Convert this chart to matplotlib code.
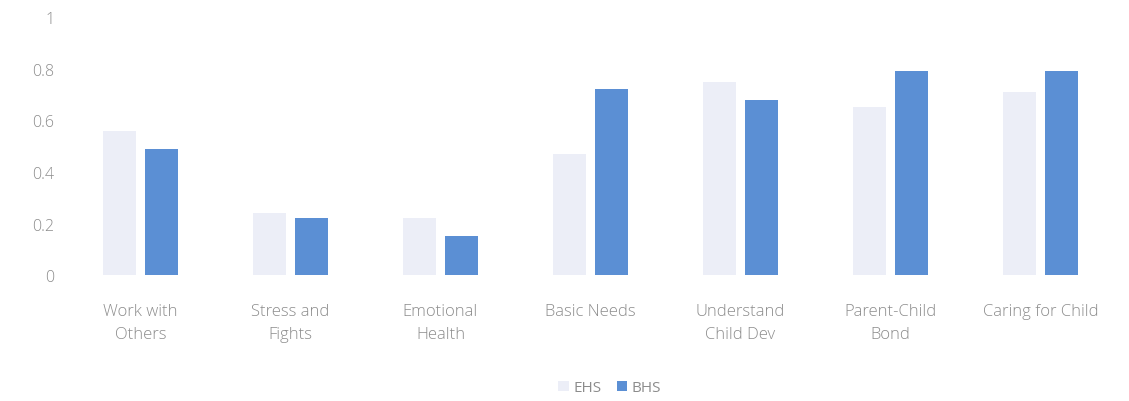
import matplotlib.pyplot as plt
import numpy as np

# data
categories = ["Work with\nOthers", "Stress and\nFights", "Emotional\nHealth", "Basic Needs",
              "Understand\nChild Dev", "Parent-Child\nBond", "Caring for Child"]
ehs = [0.56, 0.24, 0.22, 0.47, 0.75, 0.65, 0.71]
bhs = [0.49, 0.22, 0.15, 0.72, 0.68, 0.79, 0.79]
series = ["EHS", "BHS"]
yticks = [0, 0.2, 0.4, 0.6, 0.8, 1]

plt.rcParams['font.family'] = ['Open Sans', 'DejaVu Sans']
text_color = "#8c8c8c"

fig = plt.figure(figsize=(11.29, 4.02), dpi=100)
ax = fig.add_axes([0.058, 0.313, 0.930, 0.642])

x = np.arange(len(categories))
w = 0.215
ax.bar(x - 0.14, ehs, w, color="#eceef7", label=series[0])
ax.bar(x + 0.14, bhs, w, color="#5b8fd4", label=series[1])

ax.set_xlim(-0.5, len(categories) - 0.5)
ax.set_ylim(0, 1)
ax.set_yticks(yticks)
ax.set_yticklabels([f"{t:g}" for t in yticks], fontsize=11.5, color=text_color, fontweight="light")
ax.set_xticks(x)
ax.set_xticklabels(categories, fontsize=12, color=text_color, fontweight="light", linespacing=1.6)
ax.tick_params(length=0)
ax.tick_params(axis="y", pad=8)
ax.tick_params(axis="x", pad=20)
for s in ax.spines.values():
    s.set_visible(False)

fig.legend(loc="lower center", ncol=2, frameon=False, fontsize=11,
           bbox_to_anchor=(0.54, -0.02), handlelength=0.7, handleheight=0.7,
           columnspacing=1.0, handletextpad=0.3, labelcolor=text_color)

fig.savefig("out.png")
